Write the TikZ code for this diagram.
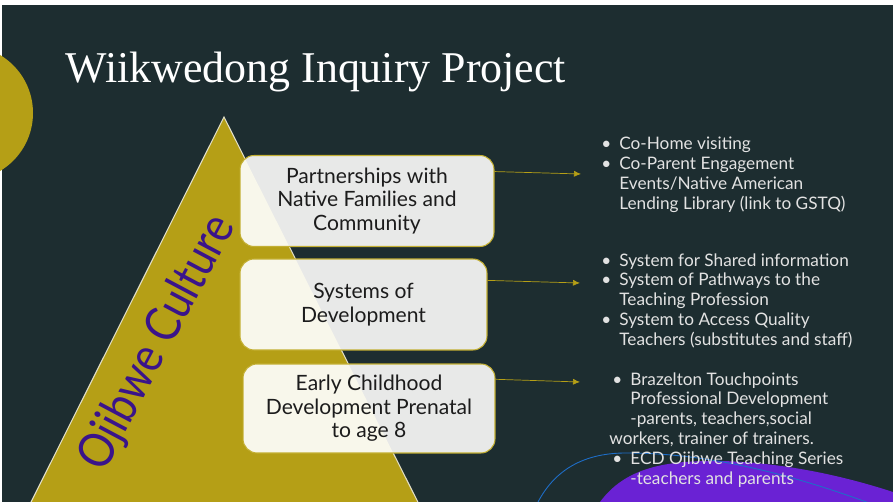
\documentclass[tikz,border=0pt]{standalone}
\usepackage{fontspec}
\setmainfont{Lato}
\newfontfamily\titlefont{Liberation Serif}
\usetikzlibrary{arrows.meta}

\definecolor{slate}{RGB}{29,45,48}
\definecolor{gold}{RGB}{181,159,22}
\definecolor{edge}{RGB}{225,222,200}
\definecolor{boxgray}{RGB}{232,233,232}
\definecolor{cream}{RGB}{248,247,235}
\definecolor{boxline}{RGB}{195,175,50}
\definecolor{boxtext}{RGB}{28,28,28}
\definecolor{listtext}{RGB}{226,226,226}
\definecolor{ojibwe}{RGB}{58,20,138}
\definecolor{violet}{RGB}{106,34,212}
\definecolor{wire}{RGB}{30,110,200}

\newcommand{\bul}{\makebox[0.36cm][l]{\textbullet}}

\tikzset{
  box/.style={draw=boxline, line width=0.6pt, fill=boxgray, rounded corners=8pt,
    align=center, text=boxtext, inner sep=0pt, font=\fontsize{12}{13.3}\selectfont,
    path picture={\fill[cream] (apex) -- (bl) -- (br) -- cycle;}},
  pointer/.style={draw=gold, line width=0.4pt, -{Latex[length=4pt,width=3.5pt]}},
  list/.style={anchor=north west, inner sep=0pt, align=left, text=listtext,
    font=\fontsize{9.8}{11.34}\selectfont}
}

\begin{document}
\begin{tikzpicture}[x=0.02cm, y=-0.02cm]
                \useasboundingbox (0, 0) rectangle (893, 502);
                \clip (0, 0) rectangle (893, 502);
                \fill [white] (0, 0) rectangle (893, 502);
                \fill [slate] (2, 5) rectangle (893, 502);

                \fill [gold] (-34.5, 113) circle [radius=67.5];
                \fill [violet] (600, 502) .. controls (625, 468) and (665, 460) .. (722, 461)
                    .. controls (790, 463) and (850, 478) .. (893, 492) -- (893, 502) -- cycle;
                \draw [wire, line width=0.5pt] (538, 502) .. controls (556, 468) and (586, 453) .. (626, 453)
                    .. controls (705, 453) and (790, 472) .. (893, 512);

                \coordinate (apex) at (224, 117);
                \coordinate (bl) at (12, 540);
                \coordinate (br) at (437, 540);
                \draw [edge, fill=gold, line width=0.6pt] (apex) -- (bl) -- (br) -- cycle;

                \node [anchor=base west, inner sep=0pt, text=white, font=\titlefont\fontsize{25}{30}\selectfont]
                    (title) at (65, 83) {Wiikwedong Inquiry Project};

                \node [text=ojibwe, rotate=62, inner sep=0pt, font=\fontsize{28}{32}\selectfont]
                    (culture) at (158, 343) {\scalebox{0.86}[1]{Ojibwe Culture}};

                \node [box, minimum width=5.08cm, minimum height=1.82cm] (b1) at (367, 201)
                    {Partnerships with\\Native Families and\\Community};
                \node [box, minimum width=4.94cm, minimum height=1.82cm] (b2) at (363.5, 304.5)
                    {Systems of\\Development};
                \node [box, minimum width=5.04cm, minimum height=1.78cm] (b3) at (369, 408.5)
                    {Early Childhood\\Development Prenatal\\to age 8};

                \coordinate (e1) at (581, 174);
                \coordinate (e2) at (580, 283);
                \coordinate (e3) at (580, 382);
                \draw [pointer] (b1.13) to (e1);
                \draw [pointer] (b2.11) to (e2);
                \draw [pointer] (b3.13) to (e3);

                \node [list] (l1) at (601, 137)
                    {\bul Co-Home visiting\\
                     \bul Co-Parent Engagement\\
                     \hspace*{0.36cm}Events/Native American\\
                     \hspace*{0.36cm}Lending Library (link to GSTQ)};
                \node [list] (l2) at (601, 253)
                    {\bul System for Shared information\\
                     \bul System of Pathways to the\\
                     \hspace*{0.36cm}Teaching Profession\\
                     \bul System to Access Quality\\
                     \hspace*{0.36cm}Teachers (substitutes and staff)};
                \node [list] (l3) at (609, 372)
                    {\hspace*{0.06cm}\bul Brazelton Touchpoints\\
                     \hspace*{0.42cm}Professional Development\\
                     \hspace*{0.42cm}-parents, teachers,social\\
                     workers, trainer of trainers.\\
                     \hspace*{0.06cm}\bul ECD Ojibwe Teaching Series\\
                     \hspace*{0.42cm}-teachers and parents};
\end{tikzpicture}
\end{document}
